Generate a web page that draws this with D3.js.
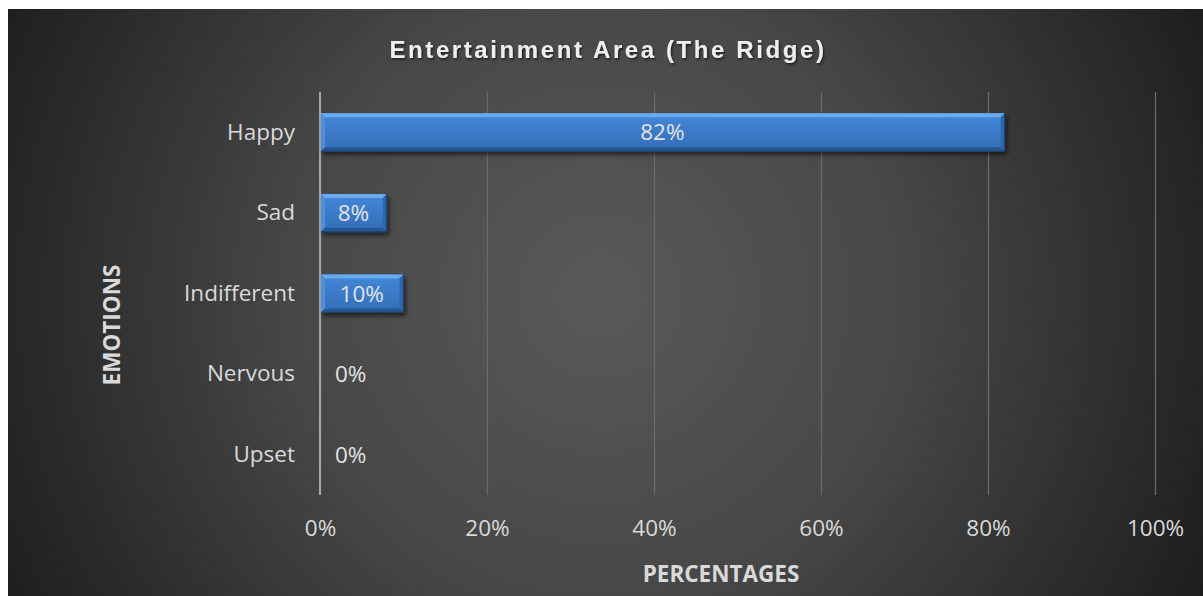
<!DOCTYPE html>
<html>
<head>
<meta charset="utf-8">
<script src="https://cdn.jsdelivr.net/npm/d3@7/dist/d3.min.js"></script>
<style>
  html, body { margin: 0; padding: 0; background: #ffffff; }
  svg { display: block; }
</style>
</head>
<body>
<svg id="chart" width="1203" height="596"></svg>
<script>
// Emotion shares recorded for the entertainment area
const categories = ["Happy", "Sad", "Indifferent", "Nervous", "Upset"];
const values = [0.82, 0.08, 0.10, 0, 0];
const tickValues = [0, 0.2, 0.4, 0.6, 0.8, 1.0];
const titleText = "Entertainment Area (The Ridge)";
const xTitle = "PERCENTAGES";
const yTitle = "EMOTIONS";

const W = 1203, H = 596;
const frame = { x: 8, y: 9, w: W - 8, h: H - 9 };
const plot = { left: 320, right: 1155, top: 92, bottom: 495 };

const svg = d3.select("#chart");
const defs = svg.append("defs");

// dark radial backdrop, lighter in the middle
const bg = defs.append("radialGradient").attr("id", "bgGrad")
  .attr("gradientUnits", "userSpaceOnUse")
  .attr("cx", 600).attr("cy", 295).attr("r", 680);
bg.append("stop").attr("offset", "0").attr("stop-color", "#595959");
bg.append("stop").attr("offset", "0.45").attr("stop-color", "#474747");
bg.append("stop").attr("offset", "1").attr("stop-color", "#1c1c1c");

// face gradient of the bars
const face = defs.append("linearGradient").attr("id", "barFace")
  .attr("x1", 0).attr("y1", 0).attr("x2", 0).attr("y2", 1);
face.append("stop").attr("offset", "0").attr("stop-color", "#4388d8");
face.append("stop").attr("offset", "1").attr("stop-color", "#336db7");

const shadow = defs.append("filter").attr("id", "barShadow")
  .attr("x", "-10%").attr("y", "-30%").attr("width", "130%").attr("height", "180%");
shadow.append("feGaussianBlur").attr("in", "SourceAlpha").attr("stdDeviation", 2.2).attr("result", "b");
shadow.append("feOffset").attr("in", "b").attr("dx", 2).attr("dy", 3).attr("result", "o");
shadow.append("feComponentTransfer").attr("in", "o").attr("result", "s")
  .append("feFuncA").attr("type", "linear").attr("slope", 0.55);
const m = shadow.append("feMerge");
m.append("feMergeNode").attr("in", "s");
m.append("feMergeNode").attr("in", "SourceGraphic");

const txtShadow = defs.append("filter").attr("id", "txtShadow")
  .attr("x", "-5%").attr("y", "-30%").attr("width", "110%").attr("height", "170%");
txtShadow.append("feDropShadow").attr("dx", 1.2).attr("dy", 1.6)
  .attr("stdDeviation", 1.2).attr("flood-color", "#000").attr("flood-opacity", 0.6);

svg.append("rect")
  .attr("x", frame.x).attr("y", frame.y)
  .attr("width", frame.w).attr("height", frame.h)
  .attr("fill", "url(#bgGrad)");

const x = d3.scaleLinear().domain([0, 1]).range([plot.left, plot.right]);
const y = d3.scaleBand().domain(categories).range([plot.top, plot.bottom]).paddingInner(0.53).paddingOuter(0.265);

const font = "'Open Sans', Lato, sans-serif";
const fs = "22.5px";

// vertical gridlines
const xAxis = d3.axisBottom(x).tickValues(tickValues)
  .tickFormat(d3.format(".0%")).tickSize(-(plot.bottom - plot.top)).tickPadding(25);
const gx = svg.append("g").attr("transform", `translate(0,${plot.bottom})`).call(xAxis);
gx.select(".domain").remove();
gx.selectAll(".tick line").attr("stroke", "#6a6a6a").attr("stroke-width", 1.3);
gx.selectAll(".tick text").attr("fill", "#d9d9d9")
  .style("font-family", font).style("font-size", fs);

// category axis
const yAxis = d3.axisLeft(y).tickSize(0).tickPadding(25);
const gy = svg.append("g").attr("transform", `translate(${plot.left},0)`).call(yAxis);
gy.select(".domain").remove();
gy.selectAll(".tick text").attr("fill", "#d9d9d9")
  .style("font-family", font).style("font-size", fs);

svg.append("line")
  .attr("x1", x(0)).attr("x2", x(0))
  .attr("y1", plot.top).attr("y2", plot.bottom)
  .attr("stroke", "#a6a6a6").attr("stroke-width", 2);

// bevelled bars
const bv = 4;
const rows = categories.map((c, i) => ({ c, v: values[i] })).filter(d => d.v > 0);
svg.append("g").selectAll("g").data(rows).join("g")
  .attr("filter", "url(#barShadow)")
  .each(function (d) {
    const g = d3.select(this);
    const x0 = x(0) + 1, x1 = x(d.v), y0 = y(d.c), y1 = y0 + y.bandwidth();
    const poly = (pts, fill) => g.append("polygon")
      .attr("points", pts.map(p => p.join(",")).join(" ")).attr("fill", fill);
    poly([[x0, y0], [x1, y0], [x1, y1], [x0, y1]], "url(#barFace)");
    poly([[x0, y0], [x1, y0], [x1 - bv, y0 + bv], [x0 + bv, y0 + bv]], "#6aabf0");
    poly([[x0, y0], [x0 + bv, y0 + bv], [x0 + bv, y1 - bv], [x0, y1]], "#4f90dc");
    poly([[x1, y0], [x1, y1], [x1 - bv, y1 - bv], [x1 - bv, y0 + bv]], "#2d66ab");
    poly([[x0, y1], [x1, y1], [x1 - bv, y1 - bv], [x0 + bv, y1 - bv]], "#26568f");
    g.append("path")
      .attr("d", `M${x1},${y0}V${y1}H${x0}`)
      .attr("fill", "none").attr("stroke", "#1c3f6b").attr("stroke-width", 1.2);
  });

// value labels
svg.append("g").selectAll("text")
  .data(categories.map((c, i) => ({ c, v: values[i] })))
  .join("text")
  .attr("x", d => d.v > 0 ? (x(0) + x(d.v)) / 2 : x(0) + 15)
  .attr("y", d => y(d.c) + y.bandwidth() / 2)
  .attr("dy", "0.36em")
  .attr("text-anchor", d => d.v > 0 ? "middle" : "start")
  .attr("fill", "#e2e2e2")
  .style("font-family", font).style("font-size", fs)
  .text(d => d3.format(".0%")(d.v));

// titles
svg.append("text")
  .attr("x", 608).attr("y", 58)
  .attr("text-anchor", "middle")
  .attr("fill", "#eeeeee")
  .attr("filter", "url(#txtShadow)")
  .style("font-family", "'Liberation Sans', Arial, sans-serif")
  .style("font-weight", "bold").style("font-size", "24px")
  .style("letter-spacing", "2.6px")
  .text(titleText);

svg.append("text")
  .attr("x", 721).attr("y", 582)
  .attr("text-anchor", "middle")
  .attr("fill", "#d9d9d9")
  .style("font-family", font).style("font-weight", "bold").style("font-size", "22.5px")
  .text(xTitle);

svg.append("text")
  .attr("transform", "translate(120,325) rotate(-90)")
  .attr("text-anchor", "middle")
  .attr("fill", "#d9d9d9")
  .style("font-family", font).style("font-weight", "bold").style("font-size", "22.5px")
  .text(yTitle);
</script>
</body>
</html>
